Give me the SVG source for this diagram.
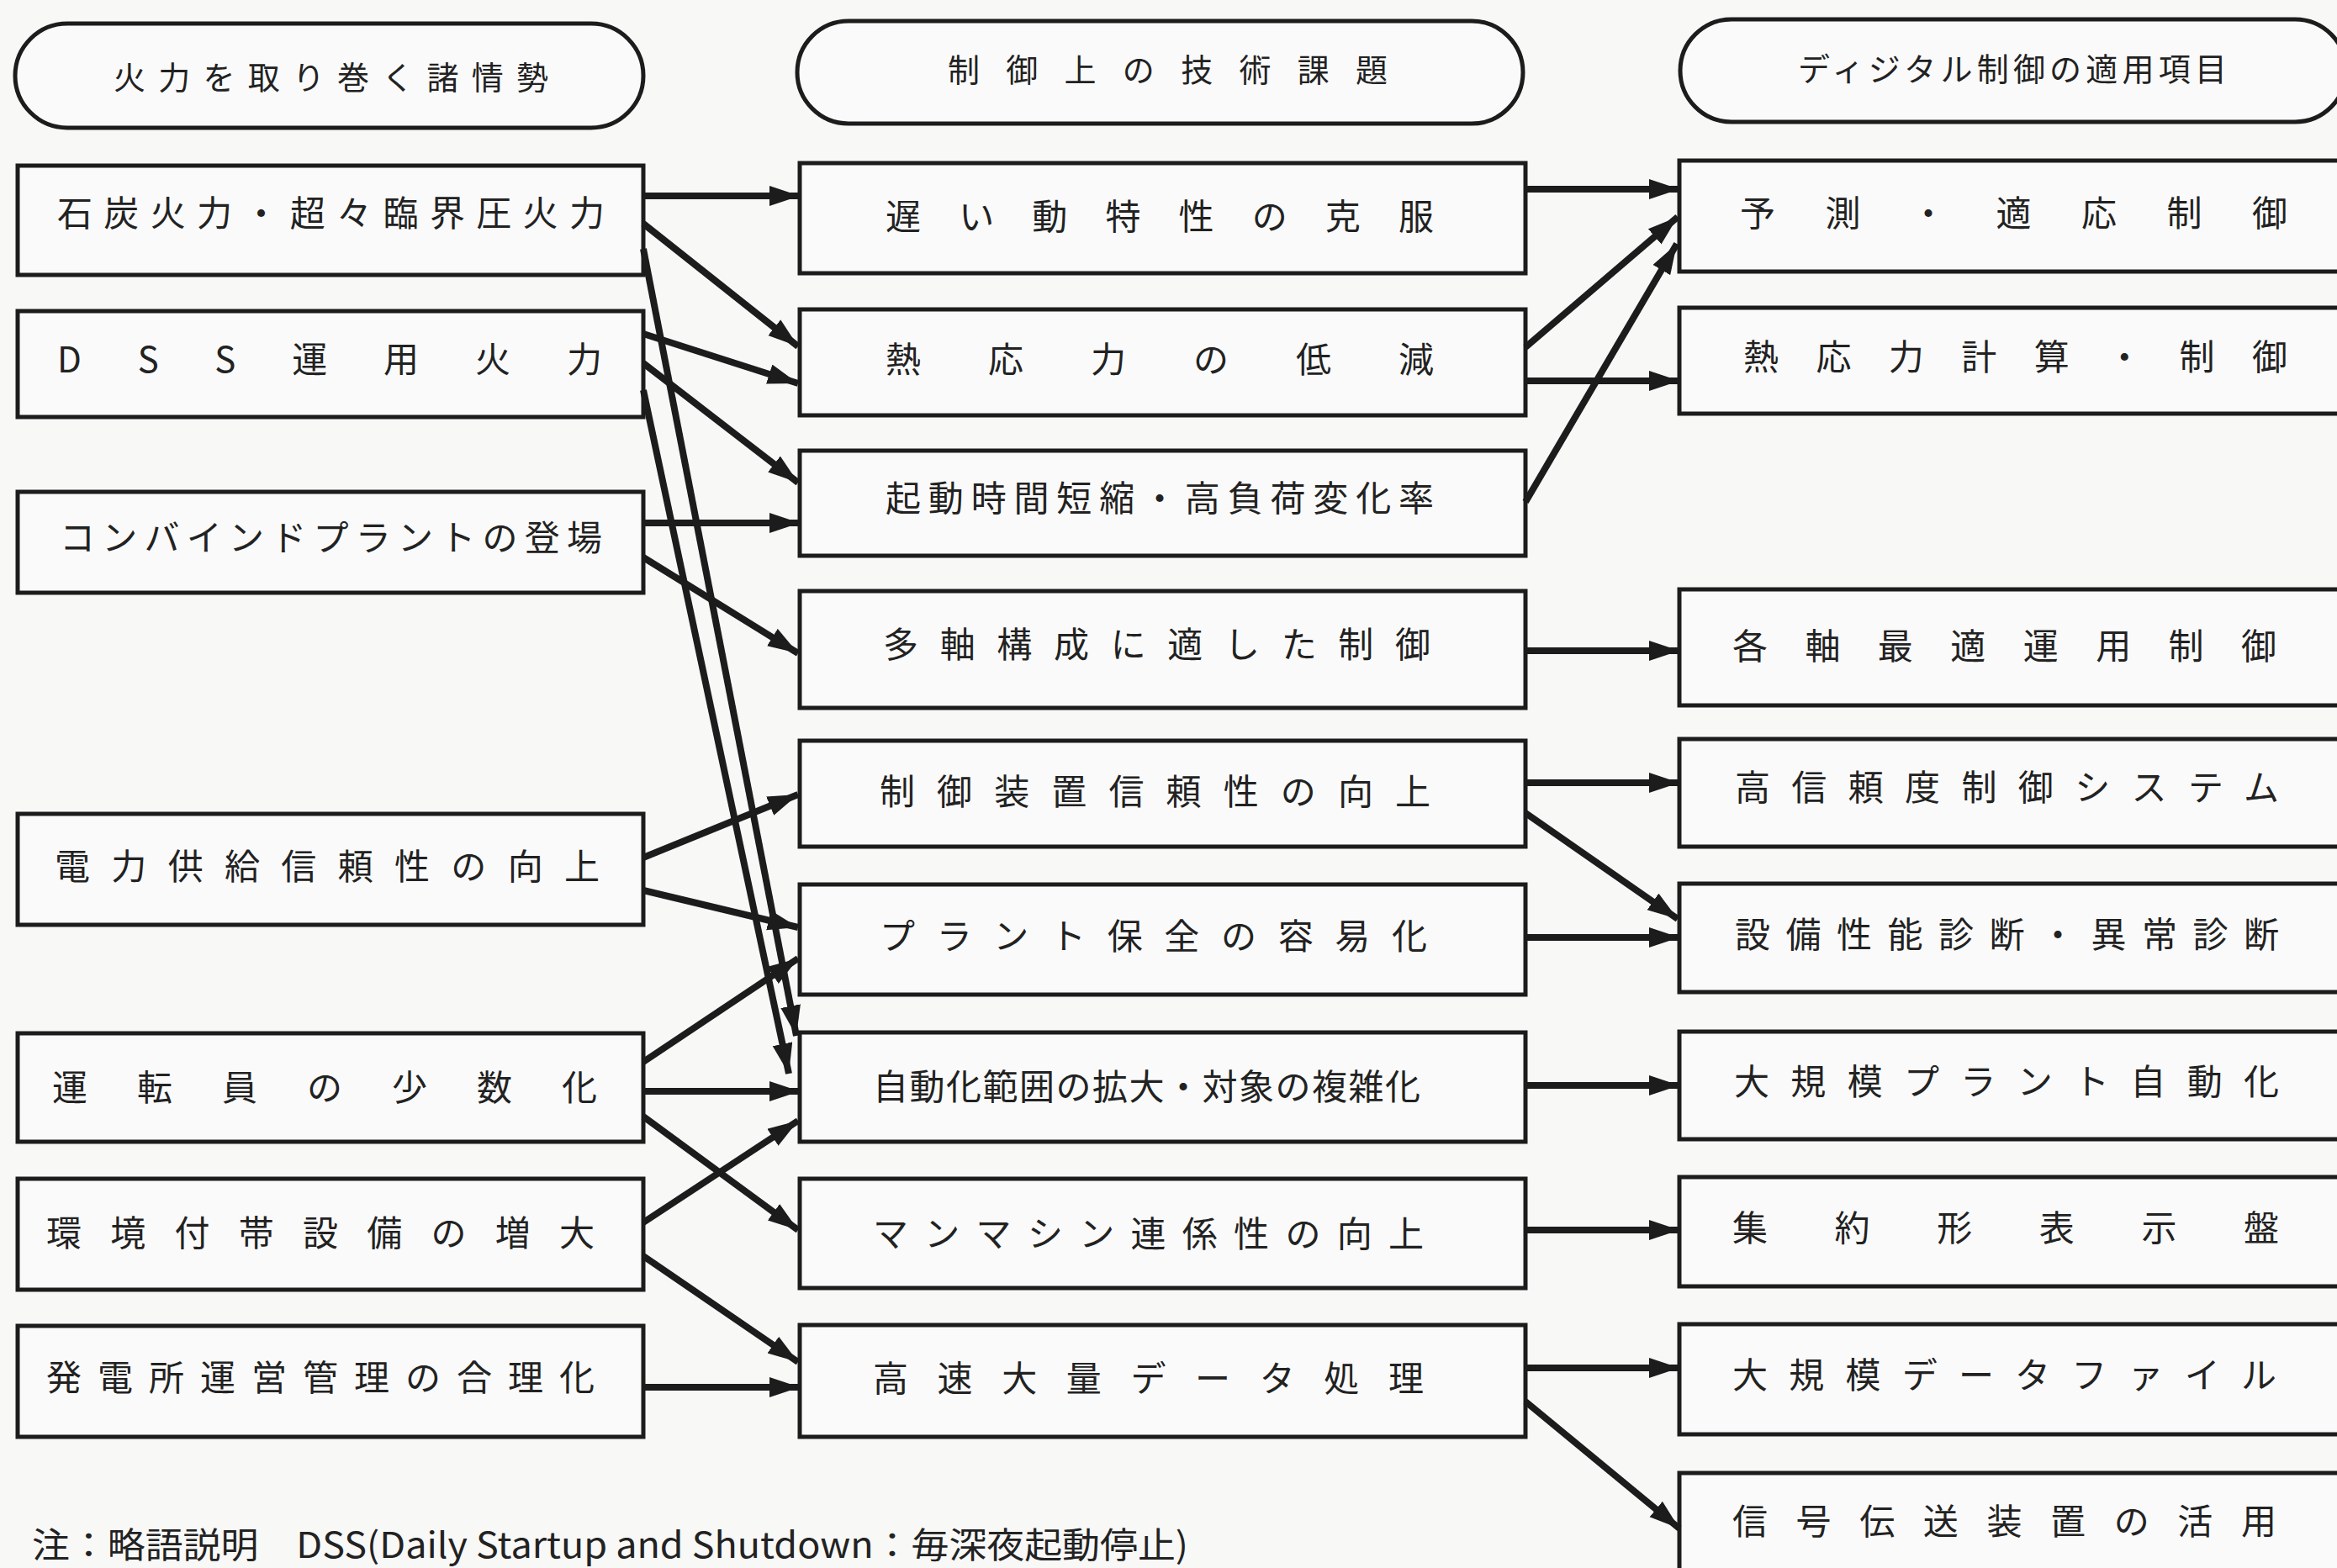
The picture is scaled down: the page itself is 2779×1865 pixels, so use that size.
<svg xmlns="http://www.w3.org/2000/svg" width="2779" height="1865" viewBox="0 0 2779 1865">
<defs>
<style>
.bg{fill:#f8f8f7}
.box{fill:#fafafa;stroke:#1c1c1c;stroke-width:5}
.t{font-family:"Noto Sans CJK JP","Noto Sans CJK SC",sans-serif;font-size:42px;fill:#222;dominant-baseline:central}
.h{font-size:38px}
.n{font-family:"Noto Sans CJK JP","Noto Sans CJK SC",sans-serif;font-size:42px;fill:#222}
.c{stroke:#1c1c1c;stroke-width:8;fill:none;marker-end:url(#ah)}
</style>
<marker id="ah" markerUnits="userSpaceOnUse" markerWidth="40" markerHeight="26" refX="36" refY="12" orient="auto">
<path d="M0,0 L36,12 L0,24 z" fill="#1c1c1c"/>
</marker>
</defs>
<rect class="bg" x="0" y="0" width="2779" height="1865"/>

<g id="header-left"><rect class="box" x="18" y="28" width="747" height="124" rx="62"/><text class="t h" x="135" y="89" textLength="517" lengthAdjust="spacing">火力を取り巻く諸情勢</text></g>
<g id="header-mid"><rect class="box" x="948" y="25" width="863" height="122" rx="61"/><text class="t h" x="1127" y="80" textLength="523" lengthAdjust="spacing">制御上の技術課題</text></g>
<g id="header-right"><rect class="box" x="1998" y="23" width="792" height="122" rx="61"/><text class="t h" x="2138" y="79" textLength="510" lengthAdjust="spacing">ディジタル制御の適用項目</text></g>

<g id="L1"><rect class="box" x="21" y="197" width="744" height="130"/><text class="t" x="68" y="250" textLength="651" lengthAdjust="spacing">石炭火力・超々臨界圧火力</text></g>
<g id="L2"><rect class="box" x="21" y="370" width="744" height="126"/><text class="t" x="68" y="424" textLength="648" lengthAdjust="spacing">DSS運用火力</text></g>
<g id="L3"><rect class="box" x="21" y="585" width="744" height="120"/><text class="t" x="71" y="636" textLength="645" lengthAdjust="spacing">コンバインドプラントの登場</text></g>
<g id="L4"><rect class="box" x="21" y="968" width="744" height="132"/><text class="t" x="65" y="1027" textLength="648" lengthAdjust="spacing">電力供給信頼性の向上</text></g>
<g id="L5"><rect class="box" x="21" y="1229" width="744" height="129"/><text class="t" x="62" y="1290" textLength="648" lengthAdjust="spacing">運転員の少数化</text></g>
<g id="L6"><rect class="box" x="21" y="1402" width="744" height="132"/><text class="t" x="55" y="1463" textLength="652" lengthAdjust="spacing">環境付帯設備の増大</text></g>
<g id="L7"><rect class="box" x="21" y="1577" width="744" height="132"/><text class="t" x="55" y="1635" textLength="652" lengthAdjust="spacing">発電所運営管理の合理化</text></g>

<g id="M1"><rect class="box" x="951" y="194" width="863" height="131"/><text class="t" x="1053" y="254" textLength="652" lengthAdjust="spacing">遅い動特性の克服</text></g>
<g id="M2"><rect class="box" x="951" y="368" width="863" height="126"/><text class="t" x="1053" y="424" textLength="652" lengthAdjust="spacing">熱応力の低減</text></g>
<g id="M3"><rect class="box" x="951" y="536" width="863" height="125"/><text class="t" x="1053" y="589" textLength="652" lengthAdjust="spacing">起動時間短縮・高負荷変化率</text></g>
<g id="M4"><rect class="box" x="951" y="703" width="863" height="139"/><text class="t" x="1050" y="763" textLength="651" lengthAdjust="spacing">多軸構成に適した制御</text></g>
<g id="M5"><rect class="box" x="951" y="881" width="863" height="126"/><text class="t" x="1046" y="938" textLength="655" lengthAdjust="spacing">制御装置信頼性の向上</text></g>
<g id="M6"><rect class="box" x="951" y="1052" width="863" height="131"/><text class="t" x="1046" y="1110" textLength="651" lengthAdjust="spacing">プラント保全の容易化</text></g>
<g id="M7"><rect class="box" x="951" y="1228" width="863" height="130"/><text class="t" x="1038" y="1289" textLength="651" lengthAdjust="spacing">自動化範囲の拡大・対象の複雑化</text></g>
<g id="M8"><rect class="box" x="951" y="1402" width="863" height="130"/><text class="t" x="1038" y="1464" textLength="655" lengthAdjust="spacing">マンマシン連係性の向上</text></g>
<g id="M9"><rect class="box" x="951" y="1576" width="863" height="133"/><text class="t" x="1038" y="1636" textLength="655" lengthAdjust="spacing">高速大量データ処理</text></g>

<g id="R1"><rect class="box" x="1997" y="191" width="810" height="132"/><text class="t" x="2069" y="250" textLength="651" lengthAdjust="spacing">予測・適応制御</text></g>
<g id="R2"><rect class="box" x="1997" y="366" width="810" height="126"/><text class="t" x="2073" y="421" textLength="647" lengthAdjust="spacing">熱応力計算・制御</text></g>
<g id="R3"><rect class="box" x="1997" y="701" width="810" height="138"/><text class="t" x="2060" y="765" textLength="647" lengthAdjust="spacing">各軸最適運用制御</text></g>
<g id="R4"><rect class="box" x="1997" y="879" width="810" height="128"/><text class="t" x="2063" y="933" textLength="647" lengthAdjust="spacing">高信頼度制御システム</text></g>
<g id="R5"><rect class="box" x="1997" y="1051" width="810" height="129"/><text class="t" x="2063" y="1108" textLength="647" lengthAdjust="spacing">設備性能診断・異常診断</text></g>
<g id="R6"><rect class="box" x="1997" y="1227" width="810" height="128"/><text class="t" x="2062" y="1283" textLength="648" lengthAdjust="spacing">大規模プラント自動化</text></g>
<g id="R7"><rect class="box" x="1997" y="1400" width="810" height="130"/><text class="t" x="2060" y="1457" textLength="650" lengthAdjust="spacing">集約形表示盤</text></g>
<g id="R8"><rect class="box" x="1997" y="1575" width="810" height="131"/><text class="t" x="2060" y="1632" textLength="647" lengthAdjust="spacing">大規模データファイル</text></g>
<g id="R9"><rect class="box" x="1997" y="1752" width="810" height="150"/><text class="t" x="2060" y="1806" textLength="647" lengthAdjust="spacing">信号伝送装置の活用</text></g>

<g id="connectors">
<line class="c" x1="765" y1="233" x2="951" y2="233"/>
<line class="c" x1="765" y1="266" x2="949" y2="412"/>
<line class="c" x1="765" y1="296" x2="947" y2="1232"/>
<line class="c" x1="765" y1="397" x2="949" y2="456"/>
<line class="c" x1="765" y1="432" x2="949" y2="574"/>
<line class="c" x1="765" y1="464" x2="938" y2="1277"/>
<line class="c" x1="765" y1="622" x2="951" y2="622"/>
<line class="c" x1="765" y1="663" x2="949" y2="777"/>
<line class="c" x1="765" y1="1020" x2="949" y2="945"/>
<line class="c" x1="765" y1="1059" x2="949" y2="1103"/>
<line class="c" x1="765" y1="1263" x2="949" y2="1140"/>
<line class="c" x1="765" y1="1298" x2="951" y2="1298"/>
<line class="c" x1="765" y1="1328" x2="949" y2="1463"/>
<line class="c" x1="765" y1="1454" x2="949" y2="1333"/>
<line class="c" x1="765" y1="1494" x2="949" y2="1620"/>
<line class="c" x1="765" y1="1650" x2="951" y2="1650"/>
<line class="c" x1="1814" y1="225" x2="1997" y2="225"/>
<line class="c" x1="1814" y1="413" x2="1995" y2="258"/>
<line class="c" x1="1814" y1="453" x2="1997" y2="453"/>
<line class="c" x1="1814" y1="597" x2="1994" y2="290"/>
<line class="c" x1="1814" y1="774" x2="1997" y2="774"/>
<line class="c" x1="1814" y1="931" x2="1997" y2="931"/>
<line class="c" x1="1814" y1="967" x2="1995" y2="1093"/>
<line class="c" x1="1814" y1="1115" x2="1997" y2="1115"/>
<line class="c" x1="1814" y1="1291" x2="1997" y2="1291"/>
<line class="c" x1="1814" y1="1463" x2="1997" y2="1463"/>
<line class="c" x1="1814" y1="1627" x2="1997" y2="1627"/>
<line class="c" x1="1814" y1="1667" x2="1997" y2="1818"/>
</g>

<text class="n" x="38" y="1853" textLength="1375" lengthAdjust="spacingAndGlyphs">注：略語説明　DSS(Daily Startup and Shutdown：毎深夜起動停止)</text>
</svg>
